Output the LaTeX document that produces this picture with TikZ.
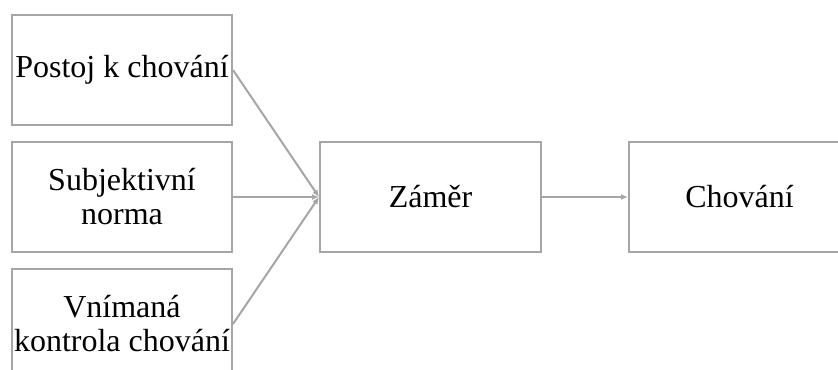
\documentclass[tikz,border=0pt]{standalone}
\usepackage{fontspec}
\setmainfont{Liberation Serif}
\usepackage{xcolor}
\usetikzlibrary{arrows.meta}

\definecolor{boxgray}{HTML}{A6A6A6}

\begin{document}
\begin{tikzpicture}[x=1bp, y=-1bp,
    factor/.style={draw=boxgray, line width=2bp, minimum width=220bp, minimum height=110bp,
        inner sep=0pt, align=center, font=\fontsize{32bp}{34bp}\selectfont},
    link/.style={draw=boxgray, line width=2bp, -{Latex[length=7bp, width=6bp]}}]
            \useasboundingbox (0,0) rectangle (838,369);

            % Draw the three factors
            \node[factor] (postoj) at (122,70) {Postoj k chování};
            \node[factor] (norma) at (122,197) {Subjektivní\\norma};
            \node[factor] (kontrola) at (122,324) {Vnímaná\\kontrola chování};

            % Draw the intention and the behaviour
            \node[factor, minimum width=221bp] (zamer) at (430.5,197) {Záměr};
            \node[factor, minimum width=221bp] (chovani) at (739.5,197) {Chování};

            % Draw the arrows
            \draw[link] (postoj.east) -- (zamer.west);
            \draw[link] (norma.east) -- (zamer.west);
            \draw[link] (kontrola.east) -- (zamer.west);
            \draw[link] (zamer.east) -- (chovani.west);

        \end{tikzpicture}
\end{document}
